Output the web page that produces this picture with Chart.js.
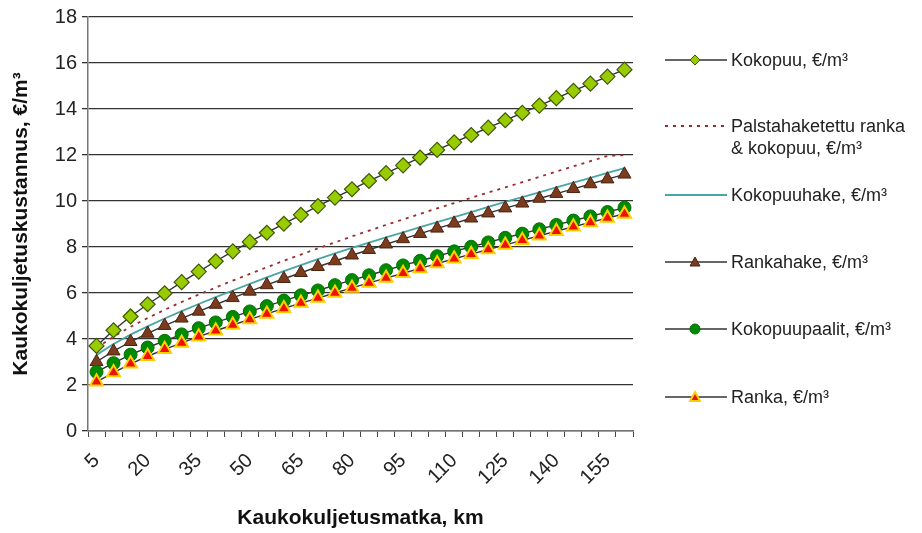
<!DOCTYPE html>
<html>
<head>
<meta charset="utf-8">
<script src="https://cdn.jsdelivr.net/npm/chart.js@4.4.1/dist/chart.umd.min.js"></script>
<style>
  body { margin: 0; background: #fff; }
  #wrap { position: relative; width: 922px; height: 533px; }
  #legend { position: absolute; left: 0; top: 0; font-family: "Liberation Sans", Arial, sans-serif; font-size: 18px; color: #222; }
  .item { position: absolute; left: 664px; }
  .item svg { position: absolute; left: 0; top: 0; }
  .item span { position: absolute; left: 67px; top: 0; white-space: nowrap; line-height: 22px; }
</style>
</head>
<body>
<div id="wrap">
  <canvas id="chart" width="922" height="533"></canvas>
  <div id="legend"></div>
</div>
<script>
// distances, km
const km = [5, 10, 15, 20, 25, 30, 35, 40, 45, 50, 55, 60, 65, 70, 75, 80,
  85, 90, 95, 100, 105, 110, 115, 120, 125, 130, 135, 140, 145, 150, 155, 160];

// costs, €/m³
const kokopuu = [3.70, 4.38, 4.98, 5.51, 5.99, 6.47, 6.93, 7.38, 7.81, 8.22, 8.62, 9.01, 9.40, 9.78, 10.15, 10.51,
  10.87, 11.21, 11.55, 11.89, 12.22, 12.55, 12.87, 13.19, 13.51, 13.83, 14.15, 14.47, 14.79, 15.10, 15.41, 15.71];
const palsta = [3.62, 4.10, 4.53, 4.91, 5.27, 5.61, 5.93, 6.24, 6.54, 6.83, 7.12, 7.40, 7.67, 7.94, 8.20, 8.46,
  8.71, 8.96, 9.20, 9.44, 9.68, 9.91, 10.14, 10.37, 10.59, 10.82, 11.05, 11.28, 11.51, 11.73, 11.96, 12.00];
const kokopuuhake = [3.31, 3.78, 4.19, 4.55, 4.89, 5.21, 5.52, 5.82, 6.11, 6.40, 6.68, 6.95, 7.21, 7.47, 7.72, 7.96,
  8.19, 8.42, 8.64, 8.86, 9.08, 9.30, 9.52, 9.74, 9.96, 10.17, 10.38, 10.59, 10.80, 11.01, 11.22, 11.43];
const rankahake = [3.01, 3.47, 3.88, 4.24, 4.58, 4.90, 5.20, 5.50, 5.79, 6.07, 6.35, 6.62, 6.88, 7.14, 7.39, 7.64,
  7.88, 8.12, 8.35, 8.58, 8.81, 9.03, 9.25, 9.47, 9.69, 9.90, 10.11, 10.32, 10.53, 10.74, 10.95, 11.16];
const paalit = [2.57, 2.95, 3.32, 3.63, 3.92, 4.20, 4.47, 4.72, 4.96, 5.20, 5.43, 5.67, 5.90, 6.11, 6.34, 6.56,
  6.77, 6.99, 7.20, 7.40, 7.60, 7.81, 8.01, 8.20, 8.40, 8.58, 8.77, 8.96, 9.15, 9.33, 9.52, 9.71];
const ranka = [2.14, 2.54, 2.92, 3.25, 3.55, 3.83, 4.10, 4.36, 4.61, 4.85, 5.09, 5.33, 5.56, 5.78, 6.00, 6.22,
  6.44, 6.65, 6.86, 7.07, 7.28, 7.49, 7.69, 7.89, 8.09, 8.29, 8.49, 8.69, 8.88, 9.07, 9.26, 9.44];

const FONT = '"Liberation Sans", Arial, sans-serif';

const series = [
  { label: 'Kokopuu, €/m³', data: kokopuu, line: '#333', dash: [], style: 'rectRot', fill: '#99cc00', stroke: '#3d5a00', r: 7.5, bw: 1.2, order: 1, ly: 60 },
  { label: 'Palstahaketettu ranka\n& kokopuu, €/m³', data: palsta, line: '#992b2b', dash: [3, 5], style: false, order: 5, ly: 126 },
  { label: 'Kokopuuhake, €/m³', data: kokopuuhake, line: '#4aa5a5', dash: [], style: false, order: 4, ly: 195 },
  { label: 'Rankahake, €/m³', data: rankahake, line: '#333', dash: [], style: 'triangle', fill: '#7a3b1e', stroke: '#4a230f', r: 7.5, bw: 1, order: 3, ly: 262 },
  { label: 'Kokopuupaalit, €/m³', data: paalit, line: '#333', dash: [], style: 'circle', fill: '#008a00', stroke: '#007000', r: 6.5, bw: 1, order: 2, ly: 329 },
  { label: 'Ranka, €/m³', data: ranka, line: '#333', dash: [], style: 'triangle', fill: '#ee1100', stroke: '#ffd000', r: 7.5, bw: 2, order: 0, ly: 397 }
];

const datasets = series.map(s => ({
  label: s.label,
  data: s.data,
  borderColor: s.line,
  borderWidth: s.style ? 1.4 : 1.8,
  borderDash: s.dash,
  tension: 0,
  fill: false,
  order: s.order,
  pointStyle: s.style || 'circle',
  pointRadius: s.style ? s.r : 0,
  pointBackgroundColor: s.fill,
  pointBorderColor: s.stroke,
  pointBorderWidth: s.bw
}));

new Chart(document.getElementById('chart'), {
  type: 'line',
  data: { labels: km, datasets: datasets },
  options: {
    responsive: false,
    animation: false,
    layout: { padding: { top: 16, right: 289, left: 0, bottom: 0 } },
    plugins: { legend: { display: false }, tooltip: { enabled: false } },
    scales: {
      x: {
        offset: true,
        grid: { drawOnChartArea: false, offset: true, tickLength: 6, color: '#444', lineWidth: 1 },
        border: { color: '#777', width: 1.5 },
        ticks: {
          autoSkip: false, minRotation: 45, maxRotation: 45, padding: 12,
          color: '#222', font: { family: FONT, size: 20 },
          callback: (v, i) => (i % 3 === 0 ? km[i] : '')
        },
        title: { display: true, text: 'Kaukokuljetusmatka, km', color: '#111', font: { family: FONT, size: 21, weight: 'bold' }, padding: { top: 0, bottom: 2 } },
        afterFit: s => { s.height = 102; }
      },
      y: {
        min: 0, max: 18,
        grid: { color: '#333', lineWidth: 1.3, tickLength: 6 },
        border: { color: '#777', width: 1.5 },
        ticks: { stepSize: 2, padding: 5, color: '#222', font: { family: FONT, size: 20 } },
        title: { display: true, text: 'Kaukokuljetuskustannus, €/m³', color: '#111', font: { family: FONT, size: 21, weight: 'bold' }, padding: { top: 9, bottom: 0 } },
        afterFit: s => { s.width = 88; }
      }
    }
  }
});

// legend as real text with small line samples
const legend = document.getElementById('legend');
series.forEach(s => {
  const item = document.createElement('div');
  item.className = 'item';
  item.style.top = (s.ly - 11) + 'px';
  let marker = '';
  if (s.style === 'rectRot') marker = `<polygon points="31,6 36,11 31,16 26,11" fill="${s.fill}" stroke="${s.stroke}" stroke-width="1"/>`;
  if (s.style === 'triangle') marker = `<polygon points="31,6 36,15 26,15" fill="${s.fill}" stroke="${s.stroke}" stroke-width="${s.bw}"/>`;
  if (s.style === 'circle') marker = `<circle cx="31" cy="11" r="5" fill="${s.fill}" stroke="${s.stroke}"/>`;
  const dash = s.dash.length ? `stroke-dasharray="${s.dash.join(' ')}"` : '';
  item.innerHTML = `<svg width="64" height="22"><line x1="1" y1="11" x2="63" y2="11" stroke="${s.line}" stroke-width="${s.style ? 1.4 : 1.8}" ${dash}/>${marker}</svg>` +
    `<span>${s.label.replace('\n', '<br>')}</span>`;
  legend.appendChild(item);
});
</script>
</body>
</html>
